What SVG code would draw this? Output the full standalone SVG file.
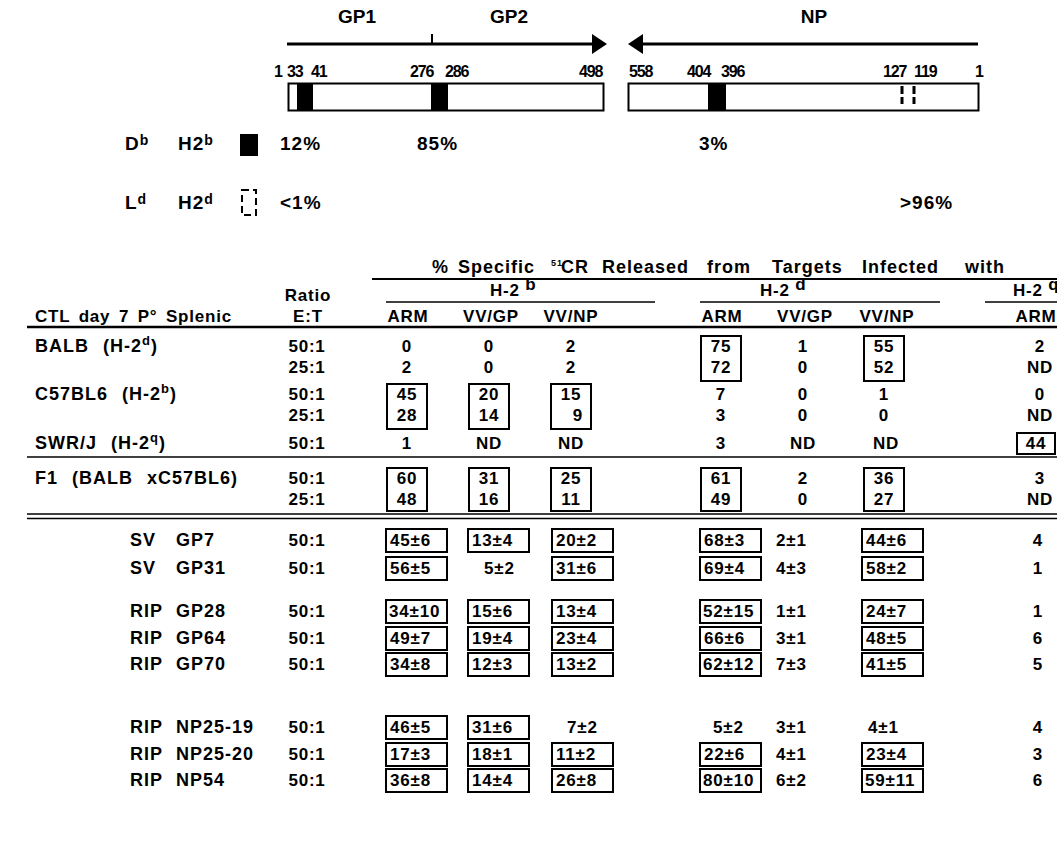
<svg xmlns="http://www.w3.org/2000/svg" width="1057" height="862" viewBox="0 0 1057 862">
<style>
text{font-family:"Liberation Sans",Arial,Helvetica,sans-serif;font-weight:bold;fill:#000}
.h{font-size:19px}
.n{font-size:16px;letter-spacing:-1.1px}
.p{font-size:19px;letter-spacing:1px}
.t{font-size:17px;letter-spacing:0.8px}
.r{font-size:18px;letter-spacing:1px}
.m{text-anchor:middle}
.bx{fill:none;stroke:#000;stroke-width:2}
.ln{stroke:#000;fill:none}
</style>
<rect width="1057" height="862" fill="#fff"/>
<g id="gp-map">
<text class="h m" x="357" y="23">GP1</text>
<text class="h m" x="509" y="23">GP2</text>
<line class="ln" x1="287" y1="44" x2="596" y2="44" stroke-width="3"/>
<polygon points="592,34 607,44 592,54"/>
<line class="ln" x1="432" y1="34" x2="432" y2="44" stroke-width="2"/>
<text class="n" x="274" y="77">1</text>
<text class="n" x="287" y="77">33</text>
<text class="n" x="311" y="77">41</text>
<text class="n" x="410" y="77">276</text>
<text class="n" x="445" y="77">286</text>
<text class="n" x="579" y="77">498</text>
<rect class="bx" x="288.5" y="83.5" width="315" height="27" stroke-width="3"/>
<rect x="297" y="83" width="16" height="28"/>
<rect x="431" y="83" width="17" height="28"/>
</g>
<g id="np-map">
<text class="h m" x="814" y="23">NP</text>
<line class="ln" x1="640" y1="44" x2="978" y2="44" stroke-width="3"/>
<polygon points="643,34 628,44 643,54"/>
<text class="n" x="629" y="77">558</text>
<text class="n" x="687" y="77">404</text>
<text class="n" x="721" y="77">396</text>
<text class="n" x="883" y="77">127</text>
<text class="n" x="914" y="77">119</text>
<text class="n" x="975" y="77">1</text>
<rect class="bx" x="628.5" y="83.5" width="350" height="27" stroke-width="3"/>
<rect x="708" y="83" width="18" height="28"/>
<line class="ln" x1="902" y1="86" x2="902" y2="104" stroke-width="3" stroke-dasharray="8,3"/>
<line class="ln" x1="914" y1="86" x2="914" y2="104" stroke-width="3" stroke-dasharray="8,3"/>
</g>
<g id="legend">
<text class="p" x="125" y="150">D<tspan dy="-5" font-size="14">b</tspan></text>
<text class="p" x="178" y="150">H2<tspan dy="-5" font-size="14">b</tspan></text>
<rect x="240" y="134" width="18" height="22"/>
<text class="p" x="280" y="150">12%</text>
<text class="p" x="417" y="150">85%</text>
<text class="p" x="699" y="150">3%</text>
<text class="p" x="125" y="209">L<tspan dy="-5" font-size="14">d</tspan></text>
<text class="p" x="178" y="209">H2<tspan dy="-5" font-size="14">d</tspan></text>
<rect class="bx" x="242" y="190" width="14" height="25" stroke-width="3.5" stroke-dasharray="7,4"/>
<text class="p" x="280" y="209">&lt;1%</text>
<text class="p" x="900" y="209">&gt;96%</text>
</g>
<g id="table-header">
<text class="r" y="273" letter-spacing="1.6"><tspan x="432">%</tspan><tspan x="458">Specific</tspan><tspan x="551" dy="-7" font-size="9">51</tspan><tspan x="561" dy="7">CR</tspan><tspan x="602">Released</tspan><tspan x="707">from</tspan><tspan x="772">Targets</tspan><tspan x="862">Infected</tspan><tspan x="965">with</tspan></text>
<line class="ln" x1="372" y1="279" x2="1057" y2="279" stroke-width="2"/>
<text class="t m" x="308" y="301">Ratio</text>
<text class="t" x="490" y="296">H-2 <tspan dy="-6">b</tspan></text>
<text class="t" x="760" y="296">H-2 <tspan dy="-6">d</tspan></text>
<text class="t" x="1013" y="296">H-2 <tspan dy="-6">q</tspan></text>
<line class="ln" x1="386" y1="302" x2="655" y2="302" stroke-width="1.5"/>
<line class="ln" x1="700" y1="302" x2="940" y2="302" stroke-width="1.5"/>
<line class="ln" x1="985" y1="302" x2="1057" y2="302" stroke-width="1.5"/>
<text class="t" x="35" y="322" word-spacing="3">CTL day 7 P° Splenic</text>
<text class="t m" x="308" y="322">E:T</text>
<text class="t m" x="408" y="322">ARM</text>
<text class="t m" x="491" y="322">VV/GP</text>
<text class="t m" x="571" y="322">VV/NP</text>
<text class="t m" x="722" y="322">ARM</text>
<text class="t m" x="805" y="322">VV/GP</text>
<text class="t m" x="887" y="322">VV/NP</text>
<text class="t m" x="1036" y="322">ARM</text>
</g>
<g id="rules">
<line class="ln" x1="27" y1="327" x2="1057" y2="327" stroke-width="2.5"/>
<line class="ln" x1="27" y1="457" x2="1057" y2="457" stroke-width="1.5"/>
<line class="ln" x1="27" y1="514" x2="1057" y2="514" stroke-width="1.5"/>
<line class="ln" x1="27" y1="518.5" x2="1057" y2="518.5" stroke-width="1.5"/>
</g>
<g id="upper-rows">
<text class="r" x="35" y="352" word-spacing="8">BALB (H-2<tspan dy="-7" font-size="13">d</tspan><tspan dy="7">)</tspan></text>
<text class="t m" x="307" y="352">50:1</text>
<text class="t m" x="307" y="373">25:1</text>
<text class="t m" x="407" y="352">0</text><text class="t m" x="489" y="352">0</text><text class="t m" x="571" y="352">2</text><text class="t m" x="721" y="352">75</text><text class="t m" x="803" y="352">1</text><text class="t m" x="884" y="352">55</text><text class="t m" x="1040" y="352">2</text>
<text class="t m" x="407" y="373">2</text><text class="t m" x="489" y="373">0</text><text class="t m" x="571" y="373">2</text><text class="t m" x="721" y="373">72</text><text class="t m" x="803" y="373">0</text><text class="t m" x="884" y="373">52</text><text class="t m" x="1040" y="373">ND</text>
<rect class="bx" x="701" y="336" width="40" height="45"/>
<rect class="bx" x="864" y="336" width="40" height="45"/>

<text class="r" x="35" y="400" word-spacing="8">C57BL6 (H-2<tspan dy="-7" font-size="13">b</tspan><tspan dy="7">)</tspan></text>
<text class="t m" x="307" y="400">50:1</text>
<text class="t m" x="307" y="421">25:1</text>
<text class="t m" x="407" y="400">45</text><text class="t m" x="489" y="400">20</text><text class="t m" x="571" y="400">15</text><text class="t m" x="721" y="400">7</text><text class="t m" x="803" y="400">0</text><text class="t m" x="884" y="400">1</text><text class="t m" x="1040" y="400">0</text>
<text class="t m" x="407" y="421">28</text><text class="t m" x="489" y="421">14</text><text class="t m" x="578" y="421">9</text><text class="t m" x="721" y="421">3</text><text class="t m" x="803" y="421">0</text><text class="t m" x="884" y="421">0</text><text class="t m" x="1040" y="421">ND</text>
<rect class="bx" x="387" y="384" width="40" height="45"/>
<rect class="bx" x="469" y="384" width="40" height="45"/>
<rect class="bx" x="551" y="384" width="40" height="45"/>

<text class="r" x="35" y="449" word-spacing="8">SWR/J (H-2<tspan dy="-7" font-size="13">q</tspan><tspan dy="7">)</tspan></text>
<text class="t m" x="307" y="449">50:1</text>
<text class="t m" x="407" y="449">1</text><text class="t m" x="489" y="449">ND</text><text class="t m" x="571" y="449">ND</text><text class="t m" x="721" y="449">3</text><text class="t m" x="803" y="449">ND</text><text class="t m" x="886" y="449">ND</text><text class="t m" x="1036" y="449">44</text>
<rect class="bx" x="1017" y="433" width="38" height="21"/>

<text class="r" x="35" y="484" word-spacing="8">F1 (BALB xC57BL6)</text>
<text class="t m" x="307" y="484">50:1</text>
<text class="t m" x="307" y="505">25:1</text>
<text class="t m" x="407" y="484">60</text><text class="t m" x="489" y="484">31</text><text class="t m" x="571" y="484">25</text><text class="t m" x="721" y="484">61</text><text class="t m" x="803" y="484">2</text><text class="t m" x="884" y="484">36</text><text class="t m" x="1040" y="484">3</text>
<text class="t m" x="407" y="505">48</text><text class="t m" x="489" y="505">16</text><text class="t m" x="571" y="505">11</text><text class="t m" x="721" y="505">49</text><text class="t m" x="803" y="505">0</text><text class="t m" x="884" y="505">27</text><text class="t m" x="1040" y="505">ND</text>
<rect class="bx" x="387" y="468" width="40" height="43"/>
<rect class="bx" x="469" y="468" width="40" height="43"/>
<rect class="bx" x="551" y="468" width="40" height="43"/>
<rect class="bx" x="701" y="468" width="40" height="43"/>
<rect class="bx" x="864" y="468" width="40" height="43"/>
</g>
<g id="lower-rows">
<text class="r" x="130" y="546">SV</text><text class="r" x="176" y="546">GP7</text><text class="t m" x="307" y="546">50:1</text>
<rect class="bx" x="386" y="529" width="61" height="23"/><text class="t" x="390" y="546">45±6</text>
<rect class="bx" x="468" y="529" width="61" height="23"/><text class="t" x="472" y="546">13±4</text>
<rect class="bx" x="552" y="529" width="61" height="23"/><text class="t" x="556" y="546">20±2</text>
<rect class="bx" x="700" y="529" width="61" height="23"/><text class="t" x="704" y="546">68±3</text>
<text class="t" x="776" y="546">2±1</text>
<rect class="bx" x="862" y="529" width="61" height="23"/><text class="t" x="866" y="546">44±6</text>
<text class="t m" x="1038" y="546">4</text>

<text class="r" x="130" y="574">SV</text><text class="r" x="176" y="574">GP31</text><text class="t m" x="307" y="574">50:1</text>
<rect class="bx" x="386" y="557" width="61" height="23"/><text class="t" x="390" y="574">56±5</text>
<text class="t" x="484" y="574">5±2</text>
<rect class="bx" x="552" y="557" width="61" height="23"/><text class="t" x="556" y="574">31±6</text>
<rect class="bx" x="700" y="557" width="61" height="23"/><text class="t" x="704" y="574">69±4</text>
<text class="t" x="776" y="574">4±3</text>
<rect class="bx" x="862" y="557" width="61" height="23"/><text class="t" x="866" y="574">58±2</text>
<text class="t m" x="1038" y="574">1</text>

<text class="r" x="130" y="617">RIP</text><text class="r" x="176" y="617">GP28</text><text class="t m" x="307" y="617">50:1</text>
<rect class="bx" x="386" y="600" width="61" height="23"/><text class="t" x="389" y="617" letter-spacing="0.3">34±10</text>
<rect class="bx" x="468" y="600" width="61" height="23"/><text class="t" x="472" y="617">15±6</text>
<rect class="bx" x="552" y="600" width="61" height="23"/><text class="t" x="556" y="617">13±4</text>
<rect class="bx" x="700" y="600" width="61" height="23"/><text class="t" x="703" y="617" letter-spacing="0.3">52±15</text>
<text class="t" x="776" y="617">1±1</text>
<rect class="bx" x="862" y="600" width="61" height="23"/><text class="t" x="866" y="617">24±7</text>
<text class="t m" x="1038" y="617">1</text>

<text class="r" x="130" y="644">RIP</text><text class="r" x="176" y="644">GP64</text><text class="t m" x="307" y="644">50:1</text>
<rect class="bx" x="386" y="627" width="61" height="23"/><text class="t" x="390" y="644">49±7</text>
<rect class="bx" x="468" y="627" width="61" height="23"/><text class="t" x="472" y="644">19±4</text>
<rect class="bx" x="552" y="627" width="61" height="23"/><text class="t" x="556" y="644">23±4</text>
<rect class="bx" x="700" y="627" width="61" height="23"/><text class="t" x="704" y="644">66±6</text>
<text class="t" x="776" y="644">3±1</text>
<rect class="bx" x="862" y="627" width="61" height="23"/><text class="t" x="866" y="644">48±5</text>
<text class="t m" x="1038" y="644">6</text>

<text class="r" x="130" y="670">RIP</text><text class="r" x="176" y="670">GP70</text><text class="t m" x="307" y="670">50:1</text>
<rect class="bx" x="386" y="653" width="61" height="23"/><text class="t" x="390" y="670">34±8</text>
<rect class="bx" x="468" y="653" width="61" height="23"/><text class="t" x="472" y="670">12±3</text>
<rect class="bx" x="552" y="653" width="61" height="23"/><text class="t" x="556" y="670">13±2</text>
<rect class="bx" x="700" y="653" width="61" height="23"/><text class="t" x="703" y="670" letter-spacing="0.3">62±12</text>
<text class="t" x="776" y="670">7±3</text>
<rect class="bx" x="862" y="653" width="61" height="23"/><text class="t" x="866" y="670">41±5</text>
<text class="t m" x="1038" y="670">5</text>

<text class="r" x="130" y="733">RIP</text><text class="r" x="176" y="733">NP25-19</text><text class="t m" x="307" y="733">50:1</text>
<rect class="bx" x="386" y="716" width="61" height="23"/><text class="t" x="390" y="733">46±5</text>
<rect class="bx" x="468" y="716" width="61" height="23"/><text class="t" x="472" y="733">31±6</text>
<text class="t" x="567" y="733">7±2</text>
<text class="t" x="713" y="733">5±2</text>
<text class="t" x="776" y="733">3±1</text>
<text class="t" x="868" y="733">4±1</text>
<text class="t m" x="1038" y="733">4</text>

<text class="r" x="130" y="760">RIP</text><text class="r" x="176" y="760">NP25-20</text><text class="t m" x="307" y="760">50:1</text>
<rect class="bx" x="386" y="743" width="61" height="23"/><text class="t" x="390" y="760">17±3</text>
<rect class="bx" x="468" y="743" width="61" height="23"/><text class="t" x="472" y="760">18±1</text>
<rect class="bx" x="552" y="743" width="61" height="23"/><text class="t" x="556" y="760">11±2</text>
<rect class="bx" x="700" y="743" width="61" height="23"/><text class="t" x="704" y="760">22±6</text>
<text class="t" x="776" y="760">4±1</text>
<rect class="bx" x="862" y="743" width="61" height="23"/><text class="t" x="866" y="760">23±4</text>
<text class="t m" x="1038" y="760">3</text>

<text class="r" x="130" y="786">RIP</text><text class="r" x="176" y="786">NP54</text><text class="t m" x="307" y="786">50:1</text>
<rect class="bx" x="386" y="769" width="61" height="23"/><text class="t" x="390" y="786">36±8</text>
<rect class="bx" x="468" y="769" width="61" height="23"/><text class="t" x="472" y="786">14±4</text>
<rect class="bx" x="552" y="769" width="61" height="23"/><text class="t" x="556" y="786">26±8</text>
<rect class="bx" x="700" y="769" width="61" height="23"/><text class="t" x="703" y="786" letter-spacing="0.3">80±10</text>
<text class="t" x="776" y="786">6±2</text>
<rect class="bx" x="862" y="769" width="61" height="23"/><text class="t" x="865" y="786" letter-spacing="0.3">59±11</text>
<text class="t m" x="1038" y="786">6</text>
</g>
</svg>
